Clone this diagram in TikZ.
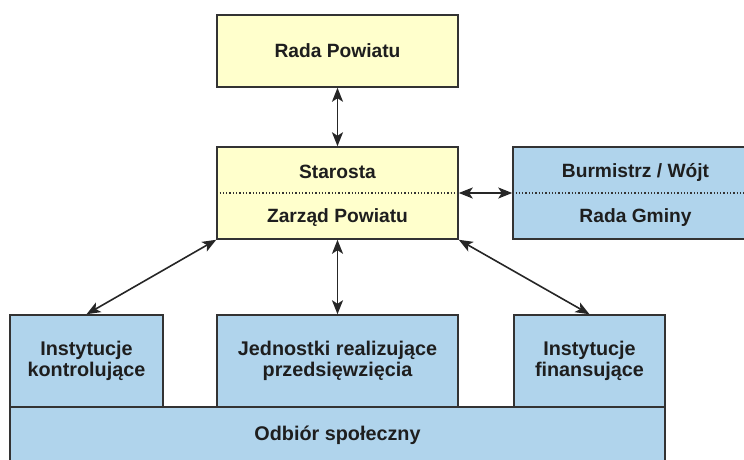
\documentclass[tikz,border=0pt]{standalone}
\usepackage{fontspec}
\setmainfont{Liberation Sans}
\usepackage{xcolor}
\usepackage{tikz}
\usetikzlibrary{arrows.meta}

\definecolor{boxyellow}{HTML}{FFFFCC}
\definecolor{boxblue}{HTML}{B0D4EC}
\definecolor{boxline}{HTML}{333333}
\definecolor{txt}{HTML}{1E1E1E}

\tikzset{
    box/.style={draw=boxline, line width=1.5pt, rectangle, inner sep=0pt},
    yellowbox/.style={box, fill=boxyellow},
    bluebox/.style={box, fill=boxblue},
    toplabel/.style={text=txt, font=\bfseries\fontsize{19.2}{21}\selectfont},
    lowlabel/.style={text=txt, align=center, font=\bfseries\fontsize{19.8}{21.7}\selectfont},
    link/.style={line width=1.6pt, draw=black!85, {Stealth[length=14pt,width=11pt,inset=3.5pt]}-{Stealth[length=14pt,width=11pt,inset=3.5pt]}},
    divider/.style={draw=boxline, line width=1.3pt, dash pattern=on 1.3pt off 2pt}
}

\begin{document}
\begin{tikzpicture}[x=1pt, y=-1pt]
    \useasboundingbox (0,0) rectangle (744,459);

    \node[yellowbox, minimum width=241pt, minimum height=72pt] (rada) at (337.5,51) {};
    \node[yellowbox, minimum width=241pt, minimum height=92pt] (starosta) at (337.5,193) {};
    \node[bluebox, minimum width=245pt, minimum height=92pt] (burmistrz) at (635.5,193) {};

    \node[bluebox, minimum width=655pt, minimum height=57pt] (odbior) at (337.5,435.5) {};
    \node[bluebox, minimum width=153pt, minimum height=92pt] (kontr) at (86.5,361) {};
    \node[bluebox, minimum width=241pt, minimum height=92pt] (jedn) at (337.5,361) {};
    \node[bluebox, minimum width=151pt, minimum height=92pt] (finans) at (589.5,361) {};

    \draw[divider] (starosta.west) -- (starosta.east);
    \draw[divider] (burmistrz.west) -- (burmistrz.east);

    \node[toplabel] (radaText) at (rada.center) {Rada Powiatu};
    \node[toplabel] (starostaText) at (337.5,172) {Starosta};
    \node[toplabel] (zarzadText) at (337.5,218) {Zarząd Powiatu};
    \node[toplabel] (burmistrzText) at (635.5,172) {Burmistrz / Wójt};
    \node[toplabel] (gminaText) at (635.5,218) {Rada Gminy};

    \node[lowlabel] (kontrText) at (kontr.center) {Instytucje\\kontrolujące};
    \node[lowlabel] (jednText) at (jedn.center) {Jednostki realizujące\\przedsięwzięcia};
    \node[lowlabel] (finansText) at (finans.center) {Instytucje\\finansujące};
    \node[lowlabel] (odbiorText) at (337.5,435) {Odbiór społeczny};

    \draw[link] (rada.south) -- (starosta.north);
    \draw[link] (starosta.east) -- (burmistrz.west);
    \draw[link] (starosta.south west) -- (kontr.north);
    \draw[link] (starosta.south) -- (jedn.north);
    \draw[link] (starosta.south east) -- (finans.north);
\end{tikzpicture}
\end{document}
